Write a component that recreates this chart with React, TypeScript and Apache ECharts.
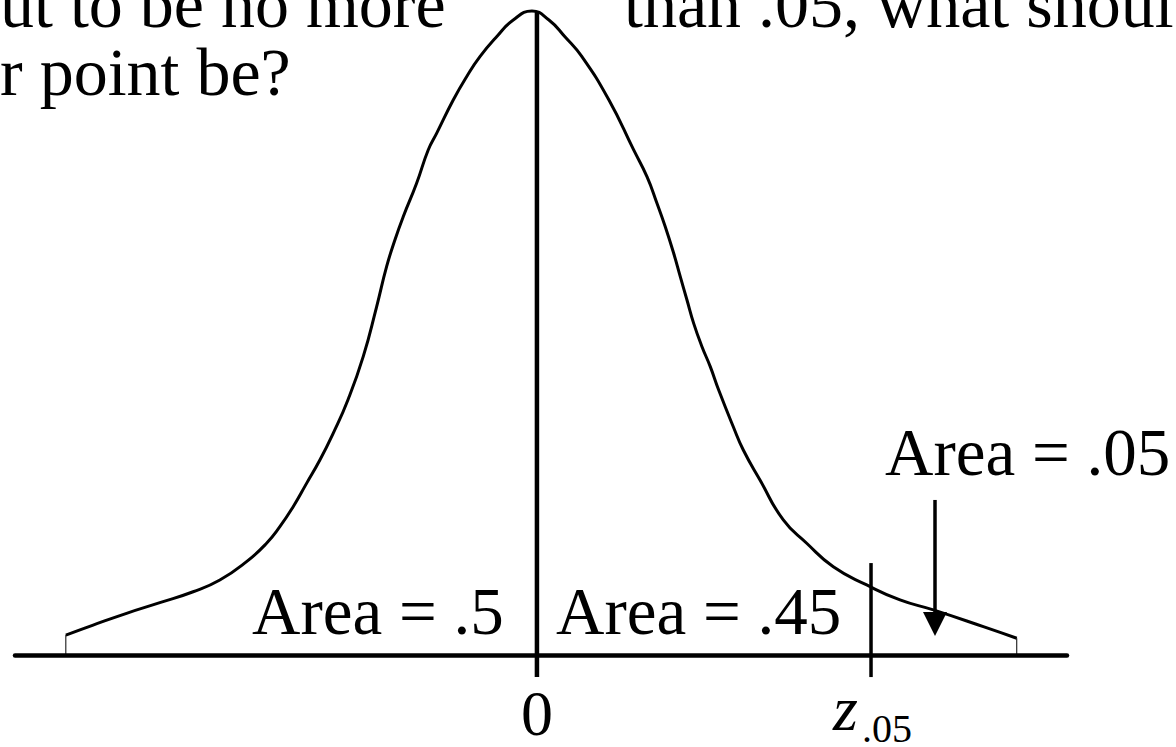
import React, { useEffect, useRef } from "react";
import * as echarts from "echarts";

// Bell curve traced as (z, density) pairs
const CURVE_Z = [
  -2.3197, -2.1853, -2.0208, -1.8568, -1.6928, -1.5613, -1.4298, -1.3313, -1.2658,
  -1.2003, -1.1343, -1.0688, -1.0033, -0.9308, -0.8555, -0.7895,
  -0.7403, -0.6994, -0.6585, -0.5925, -0.5354, -0.494, -0.4122, -0.3462,
  -0.2807, -0.1985, -0.1167, -0.0246, 0.0591, 0.1379, 0.2216, 0.3546, 0.4763,
  0.5418, 0.591, 0.6319, 0.6733, 0.7058, 0.7388, 0.7718, 0.8127, 0.8535, 0.8949,
  0.9668, 1.0161, 1.0983, 1.2131, 1.3283, 1.4593, 1.6238, 1.7878, 1.9518,
  2.1981, 2.3626,
];
const CURVE_DENSITY = [
  0.0124, 0.0186, 0.0259, 0.0325, 0.0393, 0.0466, 0.058, 0.0694, 0.0797,
  0.0921, 0.1066, 0.1211, 0.1377, 0.1584, 0.1853, 0.2163,
  0.2412, 0.2578, 0.2722, 0.293, 0.3137, 0.324, 0.3447, 0.3592,
  0.3716, 0.384, 0.3944, 0.4, 0.3944, 0.384, 0.3716, 0.3447, 0.3137,
  0.2971, 0.2806, 0.266, 0.2495, 0.235, 0.2205, 0.206, 0.1915, 0.1791, 0.1646,
  0.1418, 0.1273, 0.1087, 0.0839, 0.0694, 0.0548, 0.0435, 0.0342, 0.028,
  0.0176, 0.0104,
];

const X_RANGE = [-2.57, 2.61];
const Y_RANGE = [-0.055, 0.4];

const MEAN_Z = 0;
const Z_CRIT = 1.645;
const MEAN_LINE_DENSITY = [0.3994, -0.0137];
const CRIT_LINE_DENSITY = [0.0571, -0.0137];
const ARROW_Z = 1.96;
const ARROW_DENSITY = [0.0963, 0.0192];

const AREA_LABELS = ["Area = .5", "Area = .45", "Area = .05"];
const QUESTION_LINES = ["ut to be no more", "than .05, what shoul", "r point be?"];
const TICK_LABELS = ["0", "z", ".05"];

const FONT = '"Liberation Serif", "Times New Roman", serif';

export default function App() {
  const ref = useRef<HTMLDivElement>(null);

  useEffect(() => {
    if (!ref.current) return;
    const chart = echarts.init(ref.current, undefined, { renderer: "svg" });

    const curve = CURVE_Z.map((z, i) => [z, CURVE_DENSITY[i]]);
    const first = curve[0];
    const last = curve[curve.length - 1];

    const lineSeries = (name: string, data: number[][], width: number, extra: any = {}) => ({
      name,
      type: "line",
      data,
      symbol: "none",
      silent: true,
      clip: false,
      lineStyle: { color: "#000", width },
      ...extra,
    });

    chart.setOption({
      animation: false,
      backgroundColor: "#fff",
      grid: { left: 15, right: 1176 - 1067, top: 11, bottom: 3.45, containLabel: false },
      xAxis: {
        type: "value",
        min: X_RANGE[0],
        max: X_RANGE[1],
        axisLine: { show: true, onZero: true, lineStyle: { color: "#000", width: 4.5 } },
        axisTick: { show: false },
        axisLabel: { show: false },
        splitLine: { show: false },
      },
      yAxis: {
        type: "value",
        min: Y_RANGE[0],
        max: Y_RANGE[1],
        show: false,
        splitLine: { show: false },
      },
      series: [
        lineSeries("curve", curve, 3, { smooth: 0.5, z: 3 }),
        lineSeries("leftTail", [first, [first[0], 0]], 1),
        lineSeries("rightTail", [last, [last[0], 0]], 1),
        lineSeries(
          "mean",
          [
            [MEAN_Z, MEAN_LINE_DENSITY[0]],
            [MEAN_Z, MEAN_LINE_DENSITY[1]],
          ],
          4.5,
          { z: 4 }
        ),
        lineSeries(
          "critical",
          [
            [Z_CRIT, CRIT_LINE_DENSITY[0]],
            [Z_CRIT, CRIT_LINE_DENSITY[1]],
          ],
          3.5,
          {
            z: 4,
            markLine: {
              silent: true,
              animation: false,
              symbol: ["none", "triangle"],
              symbolSize: 24,
              label: { show: false },
              lineStyle: { color: "#000", width: 3.5, type: "solid" },
              itemStyle: { color: "#000" },
              data: [
                [
                  { coord: [ARROW_Z, ARROW_DENSITY[0]] },
                  { coord: [ARROW_Z, ARROW_DENSITY[1]] },
                ],
              ],
            },
          }
        ),
      ],
    });

    const [meanX, baseY] = chart.convertToPixel({ gridIndex: 0 }, [MEAN_Z, 0]) as number[];
    const [critX] = chart.convertToPixel({ gridIndex: 0 }, [Z_CRIT, 0]) as number[];

    // 'middle' alignment puts the alphabetic baseline about 0.3375em below y
    const midFromBaseline = (baseline: number, size: number) => baseline - 0.3375 * size;

    const text = (str: string, x: number, baseline: number, size: number, opts: any = {}) => ({
      type: "text",
      x,
      y: midFromBaseline(baseline, size),
      silent: true,
      z: 10,
      style: {
        text: str,
        font: `${opts.italic ? "italic " : ""}normal ${size}px ${FONT}`,
        lineHeight: Math.round(size * 0.8),
        fill: "#000",
        textAlign: opts.align || "left",
        textVerticalAlign: "middle",
      },
    });

    chart.setOption({
      graphic: [
        text(QUESTION_LINES[0], 0, 27, 68),
        text(QUESTION_LINES[1], 624, 27, 68),
        text(QUESTION_LINES[2], 0, 95, 68),
        text(AREA_LABELS[0], 252, baseY - 21, 67),
        text(AREA_LABELS[1], 556, baseY - 21, 67),
        text(AREA_LABELS[2], 885, 475, 67),
        text(TICK_LABELS[0], meanX, baseY + 80, 64, { align: "center" }),
        text(TICK_LABELS[1], critX - 38, baseY + 75, 64, { italic: true }),
        text(TICK_LABELS[2], critX - 9, baseY + 87, 40),
      ],
    });

    return () => chart.dispose();
  }, []);

  return (
    <div
      ref={ref}
      style={{ position: "fixed", left: 0, top: 0, width: 1176, height: 747, background: "#fff" }}
    />
  );
}
